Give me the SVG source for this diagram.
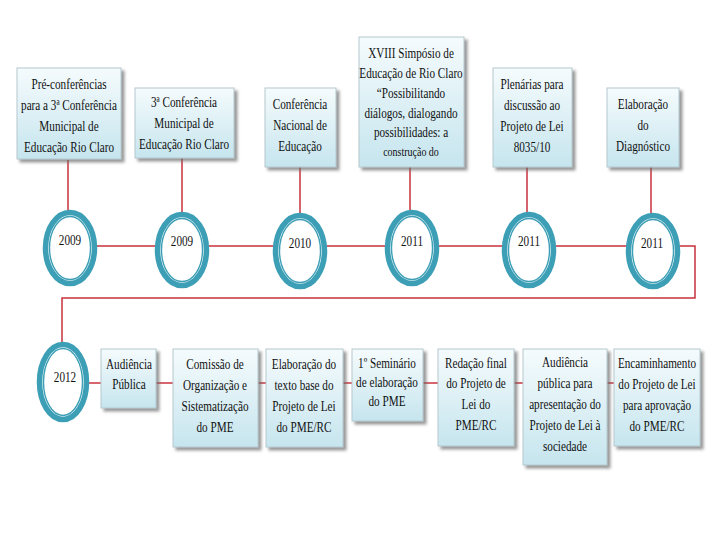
<svg xmlns="http://www.w3.org/2000/svg" width="720" height="540" viewBox="0 0 720 540">
<defs>
<linearGradient id="boxg" x1="0" y1="0" x2="0" y2="1">
<stop offset="0" stop-color="#f5fbfd"/>
<stop offset="1" stop-color="#c6e5ee"/>
</linearGradient>
<filter id="sh" x="-10%" y="-10%" width="130%" height="130%">
<feDropShadow dx="3" dy="3" stdDeviation="1.5" flood-color="#6d6d6d" flood-opacity="0.7"/>
</filter>
<style>
.box{fill:url(#boxg);stroke:#b5c8ce;stroke-width:1;filter:url(#sh)}
.ringo{fill:#fff;stroke:#3d9fb6;stroke-width:5.5}
.ringi{fill:none;stroke:#3d9fb6;stroke-width:1.4}
.ln{fill:none;stroke:#c8323c;stroke-width:1.5}
text{font-family:"Liberation Serif","Times New Roman",serif;font-size:14px;fill:#111;text-anchor:middle}
.sm{font-size:12.5px}
</style>
</defs>
<rect width="720" height="540" fill="#fff"/>
<g id="connectors">
<path class="ln" d="M68 160V212M182 158V214M300 167V215M410 167V213M527 167V214M651 167V215"/>
<path class="ln" d="M97 246H640M670 246H695V298H62V343"/>
<path class="ln" d="M89 383H614"/>
</g>
<g id="box1"><rect class="box" x="17" y="68" width="104" height="91"/>
<g transform="translate(69,0) scale(0.8,1)"><text y="89">Pré-conferências</text><text y="110">para a 3ª Conferência</text><text y="131">Municipal de</text><text y="152">Educação Rio Claro</text></g></g>
<g id="box2"><rect class="box" x="135" y="88" width="99" height="70"/>
<g transform="translate(184,0) scale(0.8,1)"><text y="107">3ª Conferência</text><text y="128">Municipal de</text><text y="149">Educação Rio Claro</text></g></g>
<g id="box3"><rect class="box" x="265" y="88" width="71" height="79"/>
<g transform="translate(300,0) scale(0.8,1)"><text y="109">Conferência</text><text y="130">Nacional de</text><text y="151">Educação</text></g></g>
<g id="box4"><rect class="box" x="359" y="37" width="105" height="130"/>
<g transform="translate(411,0) scale(0.8,1)"><text y="58">XVIII Simpósio de</text><text y="78">Educação de Rio Claro</text><text y="98">“Possibilitando</text><text y="118">diálogos, dialogando</text><text y="137">possibilidades: a</text><text class="sm" y="156">construção do</text></g></g>
<g id="box5"><rect class="box" x="493" y="68" width="79" height="99"/>
<g transform="translate(532,0) scale(0.8,1)"><text y="89">Plenárias para</text><text y="110">discussão ao</text><text y="131">Projeto de Lei</text><text y="152">8035/10</text></g></g>
<g id="box6"><rect class="box" x="607" y="88" width="72" height="79"/>
<g transform="translate(643,0) scale(0.8,1)"><text y="109">Elaboração</text><text y="130">do</text><text y="151">Diagnóstico</text></g></g>
<g id="y2009a"><ellipse class="ringo" cx="70" cy="248" rx="24.5" ry="35.5"/><ellipse class="ringi" cx="70" cy="248" rx="20.5" ry="31.5"/><text transform="translate(70,245) scale(0.8,1)">2009</text></g>
<g id="y2009b"><ellipse class="ringo" cx="182" cy="250" rx="24.5" ry="35.5"/><ellipse class="ringi" cx="182" cy="250" rx="20.5" ry="31.5"/><text transform="translate(182,246) scale(0.8,1)">2009</text></g>
<g id="y2010"><ellipse class="ringo" cx="300" cy="251" rx="24.5" ry="35.5"/><ellipse class="ringi" cx="300" cy="251" rx="20.5" ry="31.5"/><text transform="translate(300,248) scale(0.8,1)">2010</text></g>
<g id="y2011a"><ellipse class="ringo" cx="412" cy="248" rx="24.5" ry="35.5"/><ellipse class="ringi" cx="412" cy="248" rx="20.5" ry="31.5"/><text transform="translate(412,246) scale(0.8,1)">2011</text></g>
<g id="y2011b"><ellipse class="ringo" cx="529" cy="250" rx="24.5" ry="35.5"/><ellipse class="ringi" cx="529" cy="250" rx="20.5" ry="31.5"/><text transform="translate(529,246) scale(0.8,1)">2011</text></g>
<g id="y2011c"><ellipse class="ringo" cx="653" cy="251" rx="24.5" ry="35.5"/><ellipse class="ringi" cx="653" cy="251" rx="20.5" ry="31.5"/><text transform="translate(652,248) scale(0.8,1)">2011</text></g>
<g id="y2012"><ellipse class="ringo" cx="63" cy="382" rx="23.5" ry="37.5"/><ellipse class="ringi" cx="63" cy="382" rx="19.5" ry="33.5"/><text transform="translate(65,382) scale(0.8,1)">2012</text></g>
<g id="b1"><rect class="box" x="101" y="349" width="55" height="59"/>
<g transform="translate(129,0) scale(0.8,1)"><text y="369">Audiência</text><text y="389">Pública</text></g></g>
<g id="b2"><rect class="box" x="173" y="349" width="85" height="98"/>
<g transform="translate(215,0) scale(0.8,1)"><text y="369">Comissão de</text><text y="390">Organização e</text><text y="411">Sistematização</text><text y="432">do PME</text></g></g>
<g id="b3"><rect class="box" x="266" y="349" width="77" height="98"/>
<g transform="translate(304,0) scale(0.8,1)"><text y="369">Elaboração do</text><text y="390">texto base do</text><text y="411">Projeto de Lei</text><text y="432">do PME/RC</text></g></g>
<g id="b4"><rect class="box" x="352" y="349" width="71" height="72"/>
<g transform="translate(387,0) scale(0.8,1)"><text y="368">1º Seminário</text><text y="387">de elaboração</text><text y="406">do PME</text></g></g>
<g id="b5"><rect class="box" x="438" y="349" width="76" height="97"/>
<g transform="translate(476,0) scale(0.8,1)"><text y="368">Redação final</text><text y="388">do Projeto de</text><text y="409">Lei do</text><text y="430">PME/RC</text></g></g>
<g id="b6"><rect class="box" x="523" y="349" width="84" height="116"/>
<g transform="translate(565,0) scale(0.8,1)"><text y="367">Audiência</text><text y="388">pública para</text><text y="409">apresentação do</text><text y="430">Projeto de Lei à</text><text y="451">sociedade</text></g></g>
<g id="b7"><rect class="box" x="614" y="349" width="86" height="97"/>
<g transform="translate(657,0) scale(0.8,1)"><text y="368">Encaminhamento</text><text y="389">do Projeto de Lei</text><text y="410">para aprovação</text><text y="431">do PME/RC</text></g></g>
</svg>
